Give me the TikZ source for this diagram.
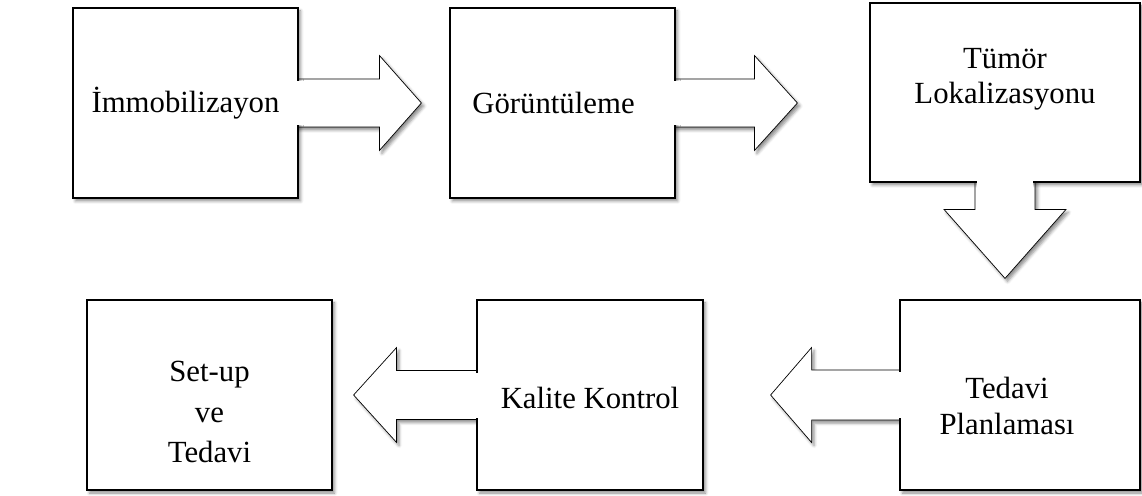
\documentclass[tikz,border=0pt]{standalone}
\usepackage{fontspec}
\setmainfont{Liberation Serif}
\usetikzlibrary{backgrounds, shadows.blur}

\begin{document}
\begin{tikzpicture}[line width=1.6pt]
  \tikzstyle{stepbox}=[draw=black, fill=white, minimum width=4.5cm, minimum height=3.8cm,
    blur shadow={shadow xshift=0.5mm, shadow yshift=-0.6mm, shadow blur radius=0.6mm, shadow opacity=45}]
  \tikzstyle{steptext}=[align=center, font=\fontsize{17.5}{20}\selectfont]
  \tikzstyle{blockarrow}=[draw=black, fill=white, line join=miter,
    blur shadow={shadow xshift=0.5mm, shadow yshift=-0.6mm, shadow blur radius=0.6mm, shadow opacity=45}]
  \tikzstyle{gap}=[draw=white, line width=6pt]

  \useasboundingbox (0,0) rectangle (22.84,9.9);

  \node[stepbox]                                           (imm)  at (3.71,7.84) {};
  \node[stepbox]                                           (gor)  at (11.25,7.84) {};
  \node[stepbox, minimum width=5.4cm, minimum height=3.58cm] (tum) at (20.1,8.05) {};
  \node[stepbox, minimum width=4.8cm]                      (plan) at (20.4,2.0) {};
  \node[stepbox, minimum width=4.52cm]                     (kal)  at (11.8,2.0) {};
  \node[stepbox, minimum width=4.9cm]                      (set)  at (4.19,2.0) {};

  \node[steptext] (immtext)  at (imm) {İmmobilizayon};
  \node[steptext] (gortext)  at ([xshift=-1.8mm]gor) {Görüntüleme};
  \node[steptext] (tumtext)  at ([yshift=2.7mm]tum) {Tümör\\Lokalizasyonu};
  \node[steptext] (plantext) at ([xshift=-2.6mm,yshift=-2.2mm]plan) {Tedavi\\Planlaması};
  \node[steptext] (kaltext)  at ([yshift=-0.6mm]kal) {Kalite Kontrol};
  \node[steptext, font=\fontsize{17.5}{22.8}\selectfont] (settext) at ([yshift=-3.4mm]set) {Set-up\\ve\\Tedavi};

  \begin{pgfonlayer}{background}
    \draw[blockarrow] ([xshift=-3mm,yshift=4.8mm]imm.east) -- ++(1.9,0) -- ++(0,0.47)
      -- ([xshift=2.44cm]imm.east) -- ++(-0.84,-0.95) -- ++(0,0.47) -- ++(-1.9,0) -- cycle;
    \draw[blockarrow] ([xshift=-3mm,yshift=4.8mm]gor.east) -- ++(1.86,0) -- ++(0,0.47)
      -- ([xshift=2.42cm]gor.east) -- ++(-0.86,-0.95) -- ++(0,0.47) -- ++(-1.86,0) -- cycle;
    \draw[blockarrow] ([xshift=-6mm,yshift=3mm]tum.south) -- ++(0,-0.82) -- ++(-0.62,0)
      -- ([yshift=-1.9cm]tum.south) -- ++(1.22,1.38) -- ++(-0.62,0) -- ++(0,0.82) -- cycle;
    \draw[blockarrow] ([xshift=3mm,yshift=5mm]plan.west) -- ++(-2.04,0) -- ++(0,0.45)
      -- ([xshift=-2.56cm]plan.west) -- ++(0.82,-0.95) -- ++(0,0.45) -- ++(2.04,0) -- cycle;
    \draw[blockarrow] ([xshift=3mm,yshift=4.9mm]kal.west) -- ++(-1.88,0) -- ++(0,0.46)
      -- ([xshift=-2.44cm]kal.west) -- ++(0.86,-0.95) -- ++(0,0.46) -- ++(1.88,0) -- cycle;
  \end{pgfonlayer}

  \draw[gap] ([yshift=4.4mm]imm.east) -- ([yshift=-4.4mm]imm.east);
  \draw[gap] ([yshift=4.4mm]gor.east) -- ([yshift=-4.4mm]gor.east);
  \draw[gap] ([xshift=-5.6mm]tum.south) -- ([xshift=5.6mm]tum.south);
  \draw[gap] ([yshift=4.6mm]plan.west) -- ([yshift=-4.6mm]plan.west);
  \draw[gap] ([yshift=4.5mm]kal.west) -- ([yshift=-4.5mm]kal.west);
\end{tikzpicture}
\end{document}
